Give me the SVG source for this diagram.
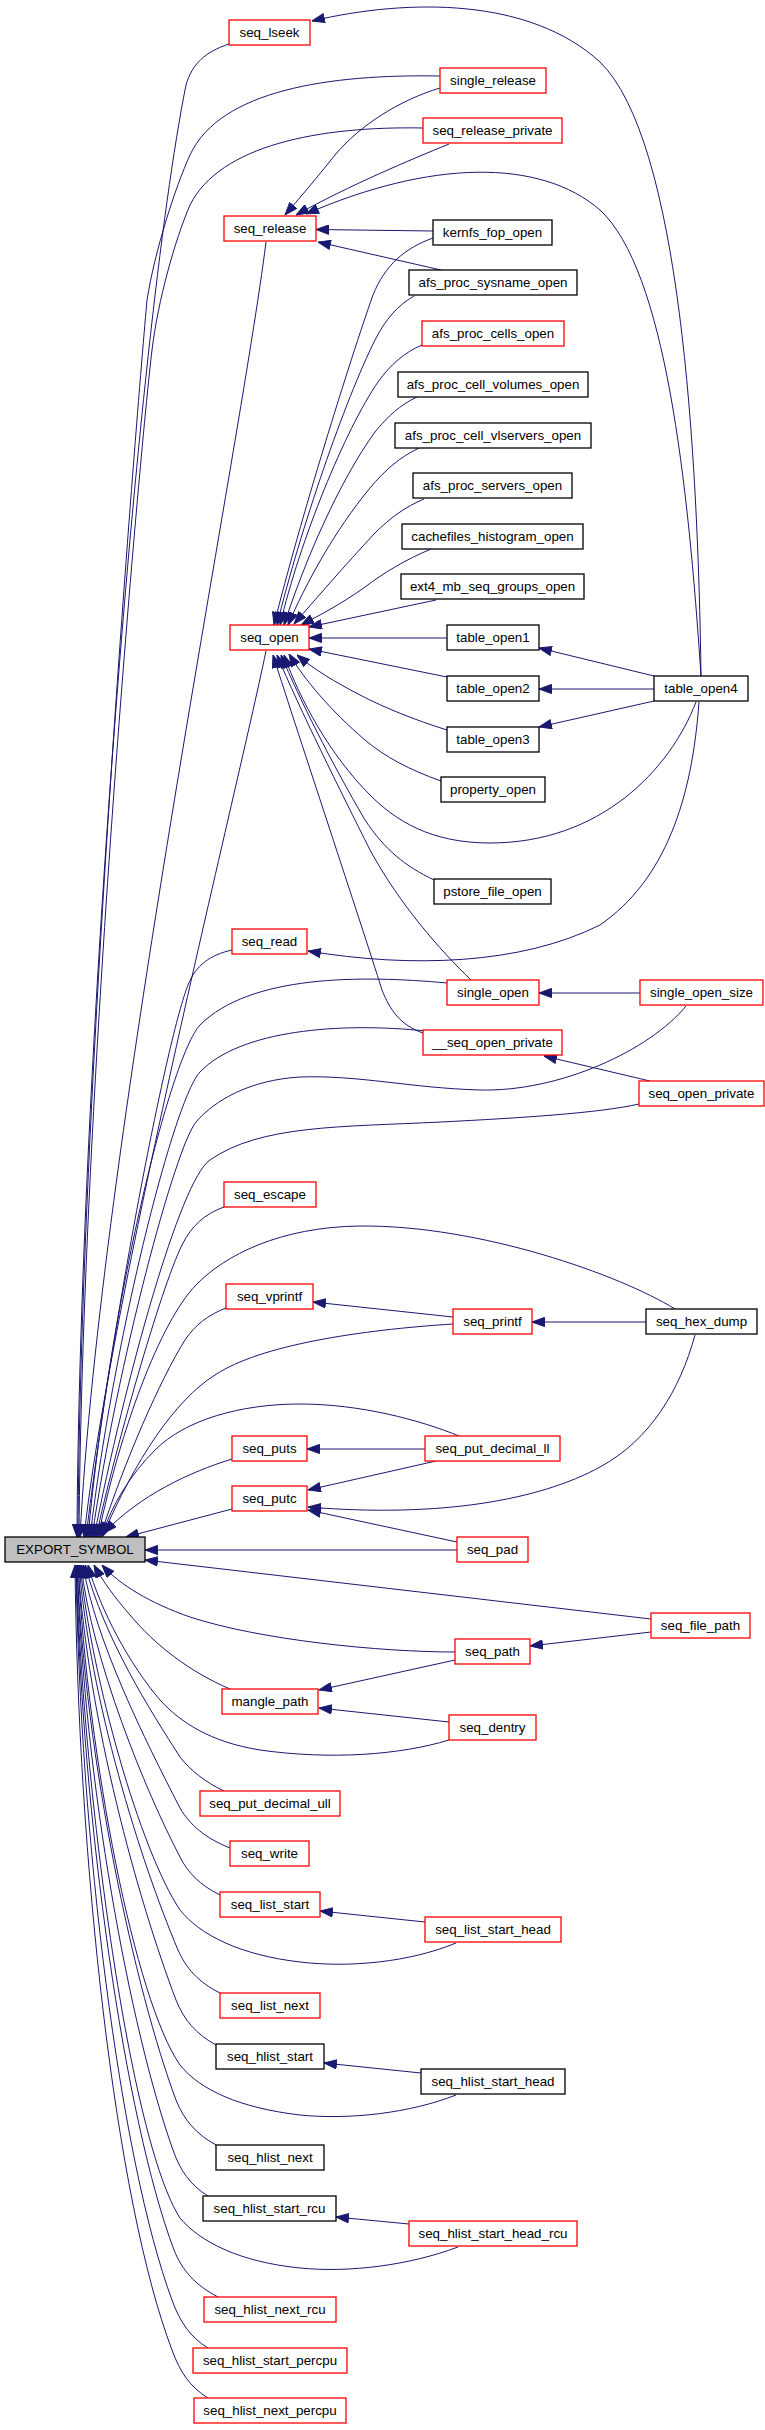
<svg xmlns="http://www.w3.org/2000/svg" width="765" height="2430" viewBox="0 0 765 2430">
<style>
.e{fill:none;stroke:#191970;stroke-width:1;marker-end:url(#ah)}
.n rect{fill:#ffffff;stroke-width:1.3}
.r rect{stroke:#ff0000}
.b rect{stroke:#000000}
.g rect{fill:#bfbfbf;stroke:#000000}
.n text{font-family:"Liberation Sans",Arial,Helvetica,sans-serif;font-size:13.33px;fill:#000000;text-anchor:middle}
</style>
<defs>
<marker id="ah" viewBox="0 0 13 10" refX="13" refY="5" markerWidth="13" markerHeight="10" markerUnits="userSpaceOnUse" orient="auto">
<path d="M0.5,0.4 L13,5 L0.5,9.6 z" fill="#191970" stroke="#191970" stroke-width="1"/>
</marker>
</defs>
<rect x="0" y="0" width="765" height="2430" fill="#ffffff"/>
<g id="edges">
<path class="e" d="M229,44 C205,52 192,64 186,85 C136,335 79,1100 77,1537"/>
<path class="e" d="M440,76 C330,74 220,90 190,155 C175,188 155,250 147,300 C138,400 80,1100 78,1537"/>
<path class="e" d="M423,128 C320,126 220,145 190,205 C175,240 158,300 152,350 C140,450 82,1100 79,1537"/>
<path class="e" d="M266,242 C240,450 100,1150 80,1537"/>
<path class="e" d="M266,651 C235,800 110,1300 84,1537"/>
<path class="e" d="M232,950 C210,955 196,965 188,985 C168,1035 115,1300 86,1537"/>
<path class="e" d="M447,983 C360,975 250,975 200,1025 C170,1058 110,1300 88,1537"/>
<path class="e" d="M426,1031 C340,1022 240,1030 200,1072 C175,1098 115,1330 90,1537"/>
<path class="e" d="M686,1006 C650,1050 560,1092 480,1090 C410,1088 360,1075 300,1077 C250,1080 215,1100 196,1122 C175,1148 118,1360 92,1537"/>
<path class="e" d="M639,1104 C600,1113 520,1118 441,1122 C340,1127 260,1125 210,1160 C180,1180 125,1380 94,1537"/>
<path class="e" d="M224,1207 C205,1214 192,1225 182,1245 C160,1290 115,1450 96,1537"/>
<path class="e" d="M675,1309 C620,1275 480,1225 360,1226 C280,1227 225,1255 196,1285 C160,1322 120,1430 98,1537"/>
<path class="e" d="M226,1308 C208,1315 195,1325 185,1340 C160,1380 125,1460 100,1537"/>
<path class="e" d="M453,1324 C360,1330 260,1345 215,1375 C175,1400 135,1460 102,1537"/>
<path class="e" d="M459,1436 C420,1420 360,1404 300,1404 C240,1404 185,1420 155,1450 C130,1475 112,1505 102,1535"/>
<path class="e" d="M232,1459 C190,1472 140,1495 104,1533"/>
<path class="e" d="M232,1509 L126,1537"/>
<path class="e" d="M457,1550 L145,1550"/>
<path class="e" d="M651,1619 L145,1560"/>
<path class="e" d="M455,1652 C380,1652 260,1640 190,1617 C150,1603 120,1585 102,1565"/>
<path class="e" d="M230,1689 C190,1672 155,1645 130,1615 C115,1598 102,1580 94,1565"/>
<path class="e" d="M449,1740 C400,1755 330,1760 260,1750 C210,1742 180,1722 160,1700 C130,1665 100,1610 88,1565"/>
<path class="e" d="M224,1791 C205,1782 190,1770 180,1757 C150,1710 105,1640 85,1565"/>
<path class="e" d="M230,1848 C205,1838 190,1825 180,1808 C145,1740 95,1640 83,1565"/>
<path class="e" d="M220,1895 C200,1885 188,1873 180,1857 C145,1790 92,1660 81,1565"/>
<path class="e" d="M456,1943 C410,1962 350,1968 300,1962 C240,1955 200,1935 180,1910 C140,1850 92,1680 80,1565"/>
<path class="e" d="M220,1993 C198,1982 186,1968 178,1950 C140,1860 90,1700 79,1565"/>
<path class="e" d="M216,2045 C196,2034 184,2020 176,2000 C138,1900 88,1720 78,1565"/>
<path class="e" d="M456,2095 C410,2113 350,2120 300,2115 C240,2108 200,2090 180,2065 C135,2000 88,1760 78,1565"/>
<path class="e" d="M216,2145 C196,2134 184,2120 176,2100 C135,1990 85,1760 77,1565"/>
<path class="e" d="M208,2196 C190,2185 180,2170 173,2150 C130,2030 84,1780 77,1565"/>
<path class="e" d="M458,2247 C410,2265 350,2273 300,2268 C240,2262 200,2242 180,2218 C130,2140 84,1800 76,1565"/>
<path class="e" d="M218,2297 C195,2285 182,2270 174,2250 C125,2120 82,1820 76,1565"/>
<path class="e" d="M208,2348 C190,2337 180,2322 172,2300 C120,2160 80,1840 76,1565"/>
<path class="e" d="M208,2398 C190,2387 180,2372 172,2350 C115,2200 78,1860 75,1565"/>
<path class="e" d="M701,676 C698,450 680,140 600,62 C530,-2 410,-2 312,21"/>
<path class="e" d="M701,676 C688,480 665,270 600,210 C540,158 430,160 306,214"/>
<path class="e" d="M440,88 C400,100 360,125 335,155 C315,180 298,200 285,215"/>
<path class="e" d="M449,144 C410,160 350,185 296,215"/>
<path class="e" d="M433,231 L316,229.5"/>
<path class="e" d="M441,270 L318,242"/>
<path class="e" d="M433,238 C405,248 385,265 373,295 C350,360 300,520 274,625"/>
<path class="e" d="M414,296 C398,305 385,320 375,340 C345,400 300,530 277,625"/>
<path class="e" d="M422,345 C405,352 390,365 378,382 C345,430 300,540 280,625"/>
<path class="e" d="M417,397 C400,405 388,416 375,432 C340,480 305,560 284,625"/>
<path class="e" d="M419,448 C400,457 385,470 370,488 C335,530 305,585 288,625"/>
<path class="e" d="M424,499 C405,507 390,518 375,533 C345,565 315,600 294,624"/>
<path class="e" d="M431,549 C405,560 385,572 365,587 C340,605 318,616 301,625"/>
<path class="e" d="M436,600 L309,627"/>
<path class="e" d="M447,638 L309,638"/>
<path class="e" d="M447,677 L309,649"/>
<path class="e" d="M447,730 C415,720 385,708 360,695 C335,682 315,670 297,655"/>
<path class="e" d="M441,781 C410,770 385,757 365,740 C330,710 305,680 289,654"/>
<path class="e" d="M696,702 C670,770 600,843 490,843 C430,843 395,820 370,795 C330,755 300,700 284,655"/>
<path class="e" d="M434,880 C405,866 385,850 365,820 C330,760 300,700 281,655"/>
<path class="e" d="M471,980 C440,950 400,905 370,850 C340,790 300,710 277,655"/>
<path class="e" d="M423,1033 C400,1025 390,1010 382,990 C360,920 300,740 273,655"/>
<path class="e" d="M640,993 L539,993"/>
<path class="e" d="M650,1081 L544,1056"/>
<path class="e" d="M654,676 L539,648"/>
<path class="e" d="M654,689 L539,689"/>
<path class="e" d="M654,701 L539,727"/>
<path class="e" d="M699,702 C692,800 665,880 600,925 C520,965 410,968 308,951"/>
<path class="e" d="M453,1317 L313,1302"/>
<path class="e" d="M646,1322 L532,1322"/>
<path class="e" d="M695,1335 C680,1390 650,1440 600,1467 C540,1500 440,1518 308,1507"/>
<path class="e" d="M425,1449 L307,1449"/>
<path class="e" d="M436,1461 L308,1490"/>
<path class="e" d="M457,1542 L308,1510"/>
<path class="e" d="M651,1632 L530,1646"/>
<path class="e" d="M455,1660 L319,1690"/>
<path class="e" d="M449,1722 L319,1708"/>
<path class="e" d="M425,1922 L320,1911"/>
<path class="e" d="M421,2073 L324,2063"/>
<path class="e" d="M409,2224 L336,2217"/>
</g>
<g id="n-seq_lseek" class="n r"><rect x="229" y="20" width="81" height="25"/><text x="269.5" y="37">seq_lseek</text></g>
<g id="n-single_release" class="n r"><rect x="440" y="68" width="106" height="25"/><text x="493" y="85">single_release</text></g>
<g id="n-seq_release_private" class="n r"><rect x="423" y="118" width="139" height="25"/><text x="492.5" y="135">seq_release_private</text></g>
<g id="n-seq_release" class="n r"><rect x="224" y="216" width="92" height="25"/><text x="270" y="233">seq_release</text></g>
<g id="n-kernfs_fop_open" class="n b"><rect x="433" y="220" width="119" height="25"/><text x="492.5" y="237">kernfs_fop_open</text></g>
<g id="n-afs_proc_sysname_open" class="n b"><rect x="409" y="270" width="168" height="25"/><text x="493" y="287">afs_proc_sysname_open</text></g>
<g id="n-afs_proc_cells_open" class="n r"><rect x="422" y="321" width="142" height="25"/><text x="493" y="338">afs_proc_cells_open</text></g>
<g id="n-afs_proc_cell_volumes_open" class="n b"><rect x="398" y="372" width="190" height="25"/><text x="493" y="389">afs_proc_cell_volumes_open</text></g>
<g id="n-afs_proc_cell_vlservers_open" class="n b"><rect x="395" y="423" width="196" height="25"/><text x="493" y="440">afs_proc_cell_vlservers_open</text></g>
<g id="n-afs_proc_servers_open" class="n b"><rect x="413" y="473" width="159" height="25"/><text x="492.5" y="490">afs_proc_servers_open</text></g>
<g id="n-cachefiles_histogram_open" class="n b"><rect x="402" y="524" width="181" height="25"/><text x="492.5" y="541">cachefiles_histogram_open</text></g>
<g id="n-ext4_mb_seq_groups_open" class="n b"><rect x="401" y="574" width="183" height="25"/><text x="492.5" y="591">ext4_mb_seq_groups_open</text></g>
<g id="n-seq_open" class="n r"><rect x="230" y="625" width="79" height="25"/><text x="269.5" y="642">seq_open</text></g>
<g id="n-table_open1" class="n b"><rect x="447" y="625" width="92" height="25"/><text x="493" y="642">table_open1</text></g>
<g id="n-table_open2" class="n b"><rect x="447" y="676" width="92" height="25"/><text x="493" y="693">table_open2</text></g>
<g id="n-table_open4" class="n b"><rect x="654" y="676" width="94" height="25"/><text x="701" y="693">table_open4</text></g>
<g id="n-table_open3" class="n b"><rect x="447" y="727" width="92" height="25"/><text x="493" y="744">table_open3</text></g>
<g id="n-property_open" class="n b"><rect x="441" y="777" width="104" height="25"/><text x="493" y="794">property_open</text></g>
<g id="n-pstore_file_open" class="n b"><rect x="434" y="879" width="117" height="25"/><text x="492.5" y="896">pstore_file_open</text></g>
<g id="n-seq_read" class="n r"><rect x="232" y="929" width="75" height="25"/><text x="269.5" y="946">seq_read</text></g>
<g id="n-single_open" class="n r"><rect x="447" y="980" width="92" height="25"/><text x="493" y="997">single_open</text></g>
<g id="n-single_open_size" class="n r"><rect x="640" y="980" width="123" height="25"/><text x="701.5" y="997">single_open_size</text></g>
<g id="n-__seq_open_private" class="n r"><rect x="423" y="1030" width="139" height="25"/><text x="492.5" y="1047">__seq_open_private</text></g>
<g id="n-seq_open_private" class="n r"><rect x="639" y="1081" width="125" height="25"/><text x="701.5" y="1098">seq_open_private</text></g>
<g id="n-seq_escape" class="n r"><rect x="224" y="1182" width="92" height="25"/><text x="270" y="1199">seq_escape</text></g>
<g id="n-seq_vprintf" class="n r"><rect x="226" y="1284" width="87" height="25"/><text x="269.5" y="1301">seq_vprintf</text></g>
<g id="n-seq_printf" class="n r"><rect x="453" y="1309" width="79" height="25"/><text x="492.5" y="1326">seq_printf</text></g>
<g id="n-seq_hex_dump" class="n b"><rect x="646" y="1309" width="111" height="25"/><text x="701.5" y="1326">seq_hex_dump</text></g>
<g id="n-seq_puts" class="n r"><rect x="232" y="1436" width="75" height="25"/><text x="269.5" y="1453">seq_puts</text></g>
<g id="n-seq_put_decimal_ll" class="n r"><rect x="425" y="1436" width="135" height="25"/><text x="492.5" y="1453">seq_put_decimal_ll</text></g>
<g id="n-seq_putc" class="n r"><rect x="232" y="1486" width="75" height="25"/><text x="269.5" y="1503">seq_putc</text></g>
<g id="n-EXPORT_SYMBOL" class="n g"><rect x="5" y="1537" width="140" height="25"/><text x="75" y="1554">EXPORT_SYMBOL</text></g>
<g id="n-seq_pad" class="n r"><rect x="457" y="1537" width="71" height="25"/><text x="492.5" y="1554">seq_pad</text></g>
<g id="n-seq_file_path" class="n r"><rect x="651" y="1613" width="99" height="25"/><text x="700.5" y="1630">seq_file_path</text></g>
<g id="n-seq_path" class="n r"><rect x="455" y="1639" width="75" height="25"/><text x="492.5" y="1656">seq_path</text></g>
<g id="n-mangle_path" class="n r"><rect x="222" y="1689" width="96" height="25"/><text x="270" y="1706">mangle_path</text></g>
<g id="n-seq_dentry" class="n r"><rect x="449" y="1715" width="87" height="25"/><text x="492.5" y="1732">seq_dentry</text></g>
<g id="n-seq_put_decimal_ull" class="n r"><rect x="200" y="1791" width="140" height="25"/><text x="270" y="1808">seq_put_decimal_ull</text></g>
<g id="n-seq_write" class="n r"><rect x="230" y="1841" width="79" height="25"/><text x="269.5" y="1858">seq_write</text></g>
<g id="n-seq_list_start" class="n r"><rect x="220" y="1892" width="100" height="25"/><text x="270" y="1909">seq_list_start</text></g>
<g id="n-seq_list_start_head" class="n r"><rect x="425" y="1917" width="136" height="25"/><text x="493" y="1934">seq_list_start_head</text></g>
<g id="n-seq_list_next" class="n r"><rect x="220" y="1993" width="100" height="25"/><text x="270" y="2010">seq_list_next</text></g>
<g id="n-seq_hlist_start" class="n b"><rect x="216" y="2044" width="108" height="25"/><text x="270" y="2061">seq_hlist_start</text></g>
<g id="n-seq_hlist_start_head" class="n b"><rect x="421" y="2069" width="144" height="25"/><text x="493" y="2086">seq_hlist_start_head</text></g>
<g id="n-seq_hlist_next" class="n b"><rect x="216" y="2145" width="108" height="25"/><text x="270" y="2162">seq_hlist_next</text></g>
<g id="n-seq_hlist_start_rcu" class="n b"><rect x="203" y="2196" width="133" height="25"/><text x="269.5" y="2213">seq_hlist_start_rcu</text></g>
<g id="n-seq_hlist_start_head_rcu" class="n r"><rect x="409" y="2221" width="168" height="25"/><text x="493" y="2238">seq_hlist_start_head_rcu</text></g>
<g id="n-seq_hlist_next_rcu" class="n r"><rect x="204" y="2297" width="132" height="25"/><text x="270" y="2314">seq_hlist_next_rcu</text></g>
<g id="n-seq_hlist_start_percpu" class="n r"><rect x="193" y="2348" width="154" height="25"/><text x="270" y="2365">seq_hlist_start_percpu</text></g>
<g id="n-seq_hlist_next_percpu" class="n r"><rect x="194" y="2398" width="152" height="25"/><text x="270" y="2415">seq_hlist_next_percpu</text></g>
</svg>
